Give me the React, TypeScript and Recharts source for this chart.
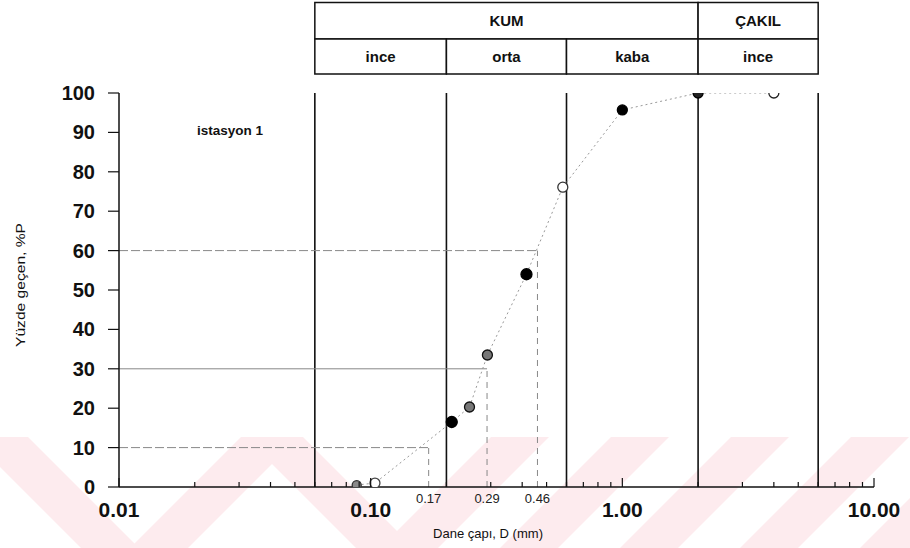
import React from 'react';
import { ScatterChart, Scatter, XAxis, YAxis, ReferenceLine, ReferenceArea } from 'recharts';

// ---- data ----
const sieveSizes = [0.088, 0.104, 0.21, 0.247, 0.291, 0.416, 0.58, 1.0, 2.0, 4.0];
const percentPassing = [0.5, 1.0, 16.5, 20.3, 33.5, 54.0, 76.1, 95.7, 100, 100];
const xMajorTicks = [0.01, 0.1, 1, 10];
const xMinorTicks = [
  0.02, 0.03, 0.04, 0.05, 0.06, 0.07, 0.08, 0.09,
  0.2, 0.3, 0.4, 0.5, 0.6, 0.7, 0.8, 0.9,
  2, 3, 4, 5, 6, 7, 8, 9,
];
const yTicks = [0, 10, 20, 30, 40, 50, 60, 70, 80, 90, 100];
const classBoundaries = [0.06, 0.2, 0.6, 2, 6];
const mainClassNames = ['KUM', 'ÇAKIL'];
const mainClassFrom = [0.06, 2];
const mainClassTo = [2, 6];
const subClassNames = ['ince', 'orta', 'kaba', 'ince'];
const subClassFrom = [0.06, 0.2, 0.6, 2];
const subClassTo = [0.2, 0.6, 2, 6];
const dSizes = [0.17, 0.29, 0.46];
const dPercents = [10, 30, 60];
const dLabels = ['0.17', '0.29', '0.46'];

const points = sieveSizes.map((d, i) => ({ d, p: percentPassing[i] }));
const allXTicks = [...xMajorTicks, ...xMinorTicks].sort((a, b) => a - b);

// ---- styles ----
const FONT = '"Liberation Sans", Arial, Helvetica, sans-serif';
const X_TICK_MARGIN = 30;
const TABLE_TOP = 123.0;
const TABLE_MID = 113.7;
const TABLE_BOTTOM = 104.8;
const MARKER_STYLE: { r: number; fill: string; stroke: string }[] = [
  { r: 4.5, fill: '#8a8a8a', stroke: '#333' },
  { r: 5, fill: '#fff', stroke: '#444' },
  { r: 5.5, fill: '#000', stroke: '#000' },
  { r: 5, fill: '#777', stroke: '#111' },
  { r: 5, fill: '#777', stroke: '#111' },
  { r: 5.5, fill: '#000', stroke: '#000' },
  { r: 5, fill: '#fff', stroke: '#333' },
  { r: 5, fill: '#000', stroke: '#000' },
  { r: 5, fill: '#222', stroke: '#000' },
  { r: 5, fill: '#fff', stroke: '#222' },
];
const D_LINE_STYLE = [
  { h: '9 3', v: '6 5' },
  { h: '0', v: '6 5' },
  { h: '9 3', v: '6 5' },
];

const WM_TOP = 437;
const WM_BOTTOM = 548;
const WM_W = 58;
const backslashStarts = [-30, 245];
const slashStarts = [130, 380, 500, 620, 740, 860];

function XTickBottom(props: any) {
  const { x, y, payload } = props;
  const v = payload.value;
  const axisY = y - X_TICK_MARGIN;
  const major = xMajorTicks.includes(v);
  return (
    <g>
      <line x1={x} x2={x} y1={axisY} y2={axisY - (major ? 9 : 5)} stroke="#111" strokeWidth={1.2} />
      {major && (
        <text x={x} y={y} textAnchor="middle" fontFamily={FONT} fontWeight="bold" fontSize={21} fill="#111">
          {v.toFixed(2)}
        </text>
      )}
    </g>
  );
}

function XTickTop(props: any) {
  const { x, y, payload } = props;
  const major = xMajorTicks.includes(payload.value);
  return <line x1={x} x2={x} y1={y} y2={y + (major ? 10 : 5)} stroke="#111" strokeWidth={1.2} />;
}

function YTick(props: any) {
  const { x, y, payload } = props;
  return (
    <text x={x} y={y + 7} textAnchor="end" fontFamily={FONT} fontWeight="bold" fontSize={20} fill="#111">
      {payload.value}
    </text>
  );
}

function Marker(props: any) {
  const { cx, cy, payload } = props;
  const i = sieveSizes.indexOf(payload.d);
  const s = MARKER_STYLE[i] || MARKER_STYLE[1];
  return <circle cx={cx} cy={cy} r={s.r} fill={s.fill} stroke={s.stroke} strokeWidth={1.3} />;
}

export default function App() {
  const wmPolys: string[] = [];
  const h = WM_BOTTOM - WM_TOP;
  backslashStarts.forEach((x0) => {
    wmPolys.push(`${x0},${WM_TOP} ${x0 + WM_W},${WM_TOP} ${x0 + WM_W + h},${WM_BOTTOM} ${x0 + h},${WM_BOTTOM}`);
  });
  slashStarts.forEach((x0) => {
    wmPolys.push(`${x0},${WM_BOTTOM} ${x0 + WM_W},${WM_BOTTOM} ${x0 + WM_W + h},${WM_TOP} ${x0 + h},${WM_TOP}`);
  });

  return (
    <div style={{ position: 'absolute', left: 0, top: 0, width: 910, height: 548, background: '#fff', overflow: 'hidden' }}>
      <svg width={910} height={548} style={{ position: 'absolute', left: 0, top: 0 }}>
        {wmPolys.map((pts, i) => (
          <polygon key={i} points={pts} fill="#fdebee" />
        ))}
      </svg>
      <div style={{ position: 'absolute', left: 0, top: 0 }}>
        <ScatterChart width={910} height={548} margin={{ top: 93, right: 36, bottom: 0, left: 0 }}>
          <XAxis
            dataKey="d"
            type="number"
            scale="log"
            domain={[0.01, 10]}
            allowDataOverflow
            ticks={allXTicks}
            interval={0}
            height={61}
            tickSize={0}
            tickMargin={X_TICK_MARGIN}
            tickLine={false}
            axisLine={{ stroke: '#111', strokeWidth: 1.5 }}
            tick={<XTickBottom />}
          />
          <XAxis
            xAxisId="top"
            orientation="top"
            type="number"
            scale="log"
            domain={[0.01, 10]}
            allowDataOverflow
            ticks={allXTicks}
            interval={0}
            height={0}
            tickSize={0}
            tickMargin={0}
            tickLine={false}
            axisLine={{ stroke: '#111', strokeWidth: 1.5 }}
            tick={<XTickTop />}
          />
          <YAxis
            dataKey="p"
            type="number"
            domain={[0, 100]}
            allowDataOverflow
            ticks={yTicks}
            interval={0}
            width={119}
            tickSize={11}
            tickMargin={13}
            tickLine={{ stroke: '#111', strokeWidth: 1.2 }}
            axisLine={{ stroke: '#111', strokeWidth: 1.5 }}
            tick={<YTick />}
          />
          <YAxis
            yAxisId="right"
            orientation="right"
            mirror
            type="number"
            domain={[0, 100]}
            allowDataOverflow
            ticks={yTicks}
            interval={0}
            width={0}
            tickSize={8}
            tick={false}
            tickLine={{ stroke: '#111', strokeWidth: 1.2 }}
            axisLine={{ stroke: '#111', strokeWidth: 1.5 }}
          />

          {classBoundaries.map((b) => (
            <ReferenceLine key={`b${b}`} x={b} stroke="#111" strokeWidth={1.6} />
          ))}

          {mainClassNames.map((n, i) => (
            <ReferenceArea
              key={`m${i}`}
              x1={mainClassFrom[i]}
              x2={mainClassTo[i]}
              y1={TABLE_MID}
              y2={TABLE_TOP}
              ifOverflow="visible"
              fill="#fff"
              fillOpacity={1}
              stroke="#111"
              strokeWidth={1.5}
              label={{ value: n, position: 'center', fill: '#111', fontSize: 15, fontWeight: 'bold', fontFamily: FONT }}
            />
          ))}
          {subClassNames.map((n, i) => (
            <ReferenceArea
              key={`s${i}`}
              x1={subClassFrom[i]}
              x2={subClassTo[i]}
              y1={TABLE_BOTTOM}
              y2={TABLE_MID}
              ifOverflow="visible"
              fill="#fff"
              fillOpacity={1}
              stroke="#111"
              strokeWidth={1.5}
              label={{ value: n, position: 'center', fill: '#111', fontSize: 15, fontWeight: 'bold', fontFamily: FONT }}
            />
          ))}

          {dSizes.map((d, i) => (
            <ReferenceLine
              key={`dh${i}`}
              segment={[{ x: 0.01, y: dPercents[i] }, { x: d, y: dPercents[i] }]}
              stroke="#888"
              strokeWidth={1}
              strokeDasharray={D_LINE_STYLE[i].h}
            />
          ))}
          {dSizes.map((d, i) => (
            <ReferenceLine
              key={`dv${i}`}
              segment={[{ x: d, y: 0 }, { x: d, y: dPercents[i] }]}
              stroke="#888"
              strokeWidth={1}
              strokeDasharray={D_LINE_STYLE[i].v}
              label={{ value: dLabels[i], position: 'bottom', offset: 7, fill: '#222', fontSize: 13, fontFamily: FONT }}
            />
          ))}

          <Scatter
            data={points}
            dataKey="p"
            line={{ stroke: '#999', strokeWidth: 1, strokeDasharray: '2 3' }}
            lineType="joint"
            shape={<Marker />}
            isAnimationActive={false}
          />
        </ScatterChart>
      </div>
      <svg width={910} height={548} style={{ position: 'absolute', left: 0, top: 0, pointerEvents: 'none' }}>
        <text x={197} y={135} fontFamily={FONT} fontWeight="bold" fontSize={13.5} fill="#111">
          istasyon 1
        </text>
        <text
          x={0}
          y={0}
          transform="translate(25 285) rotate(-90)"
          textAnchor="middle"
          fontFamily={FONT}
          fontSize={12.5}
          fill="#111"
          textLength={124}
          lengthAdjust="spacingAndGlyphs"
        >
          Yüzde geçen, %P
        </text>
        <text
          x={488}
          y={538}
          textAnchor="middle"
          fontFamily={FONT}
          fontSize={13}
          fill="#111"
          textLength={110}
          lengthAdjust="spacingAndGlyphs"
        >
          Dane çapı, D (mm)
        </text>
      </svg>
    </div>
  );
}
